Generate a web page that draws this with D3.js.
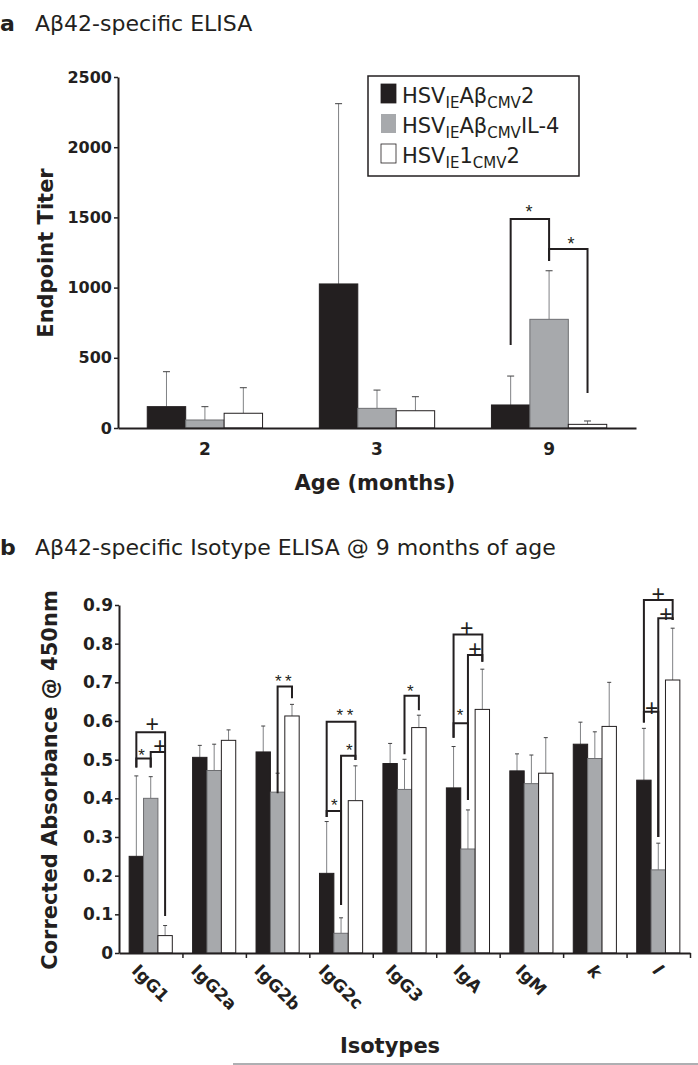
<!DOCTYPE html>
<meta charset="utf-8">
<head>
  <script src="https://d3js.org/d3.v7.min.js"></script>
  <style>
    body { margin: 0; background: #fff; }
    svg text { font-family: "DejaVu Sans", "Liberation Sans", Arial, sans-serif; fill: #231f20; }
  </style>
</head>
<body>
<svg id="fig" width="698" height="1065"></svg>
<script>
  // ============================== DATA ==============================
  // panel a : endpoint titer by age
  var ages = ["2", "3", "9"]
  var groups = ["HSVAb2", "HSVAbIL4", "HSV1"]
  var titerMean = [[152, 57, 105], [1026, 140, 123], [164, 774, 26]]
  var titerUpper = [[401, 152, 287], [2310, 270, 223], [370, 1120, 50]]   // mean + SD
  var titerTicks = [0, 500, 1000, 1500, 2000, 2500]
  // [age, fromBar, toBar, top, leftBottom, rightBottom]
  var bracketsA = [["9", 0, 1, 1489, 591, 1190], ["9", 1, 2, 1275, 1190, 249]]
  // [age, barPos, value, mark]
  var marksA = [["9", 0.48, 1567, "*"], ["9", 1.57, 1339, "*"]]

  // legend labels: [text, isSubscript]
  var legendParts = [
    [["HSV", 0], ["IE", 1], ["A\u03b2", 0], ["CMV", 1], ["2", 0]],
    [["HSV", 0], ["IE", 1], ["A\u03b2", 0], ["CMV", 1], ["IL-4", 0]],
    [["HSV", 0], ["IE", 1], ["1", 0], ["CMV", 1], ["2", 0]]
  ]

  // panel b : isotype absorbance at 9 months
  var isotypes = ["IgG1", "IgG2a", "IgG2b", "IgG2c", "IgG3", "IgA", "IgM", "k", "l"]
  var absMean = [
    [0.250, 0.400, 0.045], [0.506, 0.472, 0.550], [0.520, 0.416, 0.613],
    [0.206, 0.051, 0.394], [0.490, 0.423, 0.583], [0.427, 0.269, 0.630],
    [0.471, 0.438, 0.465], [0.540, 0.503, 0.586], [0.447, 0.215, 0.706]
  ]
  var absUpper = [
    [0.458, 0.456, 0.071], [0.537, 0.540, 0.577], [0.587, 0.465, 0.643],
    [0.340, 0.091, 0.484], [0.542, 0.501, 0.615], [0.534, 0.370, 0.734],
    [0.515, 0.512, 0.557], [0.597, 0.572, 0.700], [0.581, 0.284, 0.840]
  ]
  var absTicks = [0, 0.1, 0.2, 0.3, 0.4, 0.5, 0.6, 0.7, 0.8, 0.9]
  var bracketsB = [
    ["IgG1", 0, 2, 0.571, 0.480, 0.096], ["IgG1", 0, 1, 0.503, 0.480, 0.480], ["IgG1", 1, 2, 0.520, 0.480, 0.520],
    ["IgG2b", 1, 2, 0.689, 0.413, 0.659],
    ["IgG2c", 0, 2, 0.598, 0.352, 0.499], ["IgG2c", 0, 1, 0.367, 0.352, 0.124], ["IgG2c", 1, 2, 0.510, 0.124, 0.499],
    ["IgG3", 1, 2, 0.665, 0.514, 0.628],
    ["IgA", 0, 2, 0.824, 0.557, 0.753], ["IgA", 0, 1, 0.594, 0.557, 0.396], ["IgA", 1, 2, 0.771, 0.396, 0.753],
    ["l", 0, 2, 0.913, 0.596, 0.861], ["l", 0, 1, 0.624, 0.596, 0.300], ["l", 1, 2, 0.866, 0.300, 0.861]
  ]
  var marksB = [
    ["IgG1", 1.11, 0.590, "+"], ["IgG1", 0.37, 0.520, "*"], ["IgG1", 1.64, 0.533, "+"],
    ["IgG2b", 1.39, 0.712, "**"],
    ["IgG2c", 1.27, 0.624, "**"], ["IgG2c", 0.53, 0.391, "*"], ["IgG2c", 1.58, 0.533, "*"],
    ["IgG3", 1.40, 0.687, "*"],
    ["IgA", 0.91, 0.840, "+"], ["IgA", 0.45, 0.624, "*"], ["IgA", 1.49, 0.785, "+"],
    ["l", 1.00, 0.926, "+"], ["l", 0.54, 0.633, "+"], ["l", 1.54, 0.874, "+"]
  ]

  var fills = ["#231f20", "#a7a9ac", "#ffffff"]
  var strokes = ["#231f20", "#6d6e71", "#231f20"]

  var svg = d3.select("#fig")

  // ============================== helpers ==============================
  function drawBars(g, cats, means, uppers, x0, x1, y, capW) {
    var grp = g.selectAll(".grp").data(cats).enter().append("g")
      .attr("transform", function(d) { return "translate(" + x0(d) + ",0)" })
    grp.each(function(c, ci) {
      var sel = d3.select(this)
      groups.forEach(function(s, si) {
        var cx = x1(s) + x1.bandwidth() / 2
        // error line then cap
        sel.append("line").attr("x1", cx).attr("x2", cx)
          .attr("y1", y(means[ci][si])).attr("y2", y(uppers[ci][si]))
          .attr("stroke", "#808285").attr("stroke-width", 1)
        sel.append("line").attr("x1", cx - capW / 2).attr("x2", cx + capW / 2)
          .attr("y1", y(uppers[ci][si])).attr("y2", y(uppers[ci][si]))
          .attr("stroke", "#414042").attr("stroke-width", 1)
        sel.append("rect")
          .attr("x", x1(s)).attr("width", x1.bandwidth())
          .attr("y", y(means[ci][si])).attr("height", y(0) - y(means[ci][si]))
          .attr("fill", fills[si]).attr("stroke", strokes[si]).attr("stroke-width", 1)
      })
    })
  }

  function barX(x0, x1, cat, pos) {
    return x0(cat) + x1.step() * (pos + 0.5)
  }

  function drawBrackets(g, list, x0, x1, y) {
    list.forEach(function(b) {
      var xl = barX(x0, x1, b[0], b[1]), xr = barX(x0, x1, b[0], b[2])
      g.append("path")
        .attr("d", "M" + xl + "," + y(b[4]) + "V" + y(b[3]) + "H" + xr + "V" + y(b[5]))
        .attr("fill", "none").attr("stroke", "#231f20").attr("stroke-width", 2)
    })
  }

  function drawMarks(g, list, x0, x1, y, fs) {
    list.forEach(function(m) {
      var plus = m[3] == "+"
      var size = plus ? fs + 7 : fs + 1
      // shift so the glyph centre sits on the value
      var off = plus ? 0.32 * size : 0.56 * size
      g.append("text")
        .attr("x", barX(x0, x1, m[0], m[1])).attr("y", y(m[2]) + off)
        .attr("text-anchor", "middle")
        .attr("fill", "#231f20")
        .style("font-size", size + "px")
        .style("font-family", "'Liberation Sans', Arial, sans-serif")
        .text(plus ? "+" : m[3].split("").join("\u2009"))
    })
  }

  function styleAxis(a, fs) {
    a.select(".domain").attr("stroke", "#231f20").attr("stroke-width", 2)
    a.selectAll(".tick line").attr("stroke", "#231f20").attr("stroke-width", 1.5)
    a.selectAll("text").style("font-size", fs + "px").style("font-weight", "bold")
      .style("font-family", "'DejaVu Sans', sans-serif").attr("fill", "#231f20")
  }

  // ============================== PANEL A ==============================
  svg.append("text").attr("x", 0).attr("y", 31).style("font-size", "22px").style("font-weight", "bold").text("a")
  svg.append("text").attr("x", 35).attr("y", 31).style("font-size", "22px").text("A\u03b242-specific ELISA")

  var xA = d3.scaleBand().domain(ages).range([118, 636]).paddingInner(0.33).paddingOuter(0.17)
  var xA1 = d3.scaleBand().domain(groups).range([0, xA.bandwidth()])
  var yA = d3.scaleLinear().domain([0, 2500]).range([428, 77])

  var gA = svg.append("g")
  drawBars(gA, ages, titerMean, titerUpper, xA, xA1, yA, 7)

  var axA = gA.append("g").attr("transform", "translate(118,0)")
    .call(d3.axisLeft(yA).tickValues(titerTicks).tickSize(4).tickPadding(2).tickSizeOuter(0)
      .tickFormat(d3.format("d")))
  var axAx = gA.append("g").attr("transform", "translate(0,428)")
    .call(d3.axisBottom(xA).tickSize(0).tickPadding(15).tickSizeOuter(0))
  styleAxis(axA, 16)
  styleAxis(axAx, 17)

  drawBrackets(gA, bracketsA, xA, xA1, yA)
  drawMarks(gA, marksA, xA, xA1, yA, 17)

  gA.append("text").attr("transform", "translate(53,253) rotate(-90)")
    .attr("text-anchor", "middle").style("font-size", "21px").style("font-weight", "bold")
    .text("Endpoint Titer")
  gA.append("text").attr("x", 375).attr("y", 490).attr("text-anchor", "middle")
    .style("font-size", "21px").style("font-weight", "bold").text("Age (months)")

  // legend
  var leg = gA.append("g")
  leg.append("rect").attr("x", 368).attr("y", 76).attr("width", 211).attr("height", 100)
    .attr("fill", "#fff").attr("stroke", "#231f20").attr("stroke-width", 1.5)
  legendParts.forEach(function(parts, i) {
    var base = 103 + i * 30
    leg.append("rect").attr("x", 381).attr("y", base - 19).attr("width", 15).attr("height", 19)
      .attr("fill", fills[i]).attr("stroke", i == 1 ? "none" : "#231f20").attr("stroke-width", 0.8)
    var t = leg.append("text").attr("x", 402).attr("y", base).style("font-size", "21px")
    var shift = 0
    parts.forEach(function(p) {
      var want = p[1] ? 5 : 0
      t.append("tspan").text(p[0])
        .style("font-size", p[1] ? "15px" : "21px")
        .attr("dy", want - shift)
      shift = want
    })
  })

  // ============================== PANEL B ==============================
  svg.append("text").attr("x", 0).attr("y", 555).style("font-size", "22px").style("font-weight", "bold").text("b")
  svg.append("text").attr("x", 35).attr("y", 555).style("font-size", "22px")
    .text("A\u03b242-specific Isotype ELISA @ 9 months of age")

  var xB = d3.scaleBand().domain(isotypes).range([119, 690]).paddingInner(0.32).paddingOuter(0.16)
  var xB1 = d3.scaleBand().domain(groups).range([0, xB.bandwidth()])
  var yB = d3.scaleLinear().domain([0, 0.9]).range([953, 605])
  var xBlin = d3.scaleLinear().domain([0, isotypes.length]).range([119, 690])

  var gB = svg.append("g")
  drawBars(gB, isotypes, absMean, absUpper, xB, xB1, yB, 4)

  var axB = gB.append("g").attr("transform", "translate(119,0)")
    .call(d3.axisLeft(yB).tickValues(absTicks).tickSize(4).tickPadding(2).tickSizeOuter(0)
      .tickFormat(function(d) { return d == 0 ? "0" : d3.format(".1f")(d) }))
  var axBx = gB.append("g").attr("transform", "translate(0,953)")
    .call(d3.axisBottom(xBlin).tickValues(d3.range(1, isotypes.length + 1)).tickSize(5)
      .tickFormat("").tickSizeOuter(0))
  styleAxis(axB, 17)
  styleAxis(axBx, 17)

  // rotated category labels, bbox centred on the category, tops aligned
  var fsX = 17, cap = 0.73 * fsX, k = Math.SQRT1_2
  isotypes.forEach(function(c) {
    var t = gB.append("text").style("font-size", fsX + "px").style("font-weight", "bold")
      .style("font-style", c.length == 1 ? "italic" : "normal").text(c)
    var L = t.node().getComputedTextLength()
    var cx = xB(c) + xB.bandwidth() / 2
    var x0 = cx - k * (L + cap) / 2, y0 = 963 + k * cap
    t.attr("transform", "translate(" + x0 + "," + y0 + ") rotate(45)")
  })

  drawBrackets(gB, bracketsB, xB, xB1, yB)
  drawMarks(gB, marksB, xB, xB1, yB, 16)

  gB.append("text").attr("transform", "translate(57,780) rotate(-90)")
    .attr("text-anchor", "middle").style("font-size", "21px").style("font-weight", "bold")
    .text("Corrected Absorbance @ 450nm")
  gB.append("text").attr("x", 390).attr("y", 1053).attr("text-anchor", "middle")
    .style("font-size", "21px").style("font-weight", "bold").text("Isotypes")

  svg.append("line").attr("x1", 233).attr("x2", 698).attr("y1", 1064).attr("y2", 1064)
    .attr("stroke", "#939598").attr("stroke-width", 1.5)
</script>
</body>
